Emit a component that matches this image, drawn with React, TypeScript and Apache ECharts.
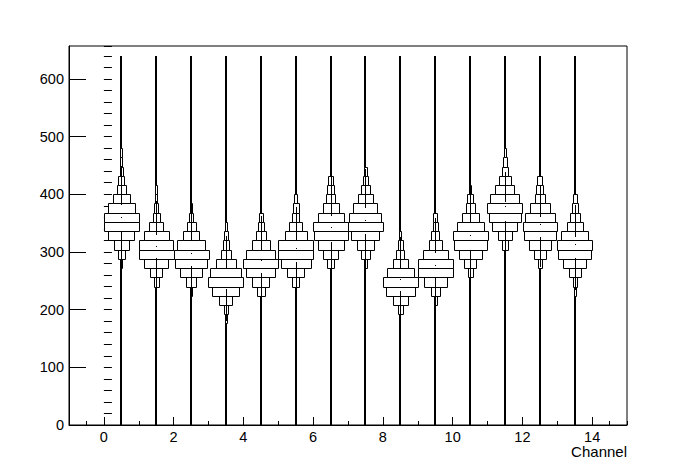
import { useEffect, useRef } from "react";
import * as echarts from "echarts";

// Channel centres on the x axis
const channelCenters = [0.5, 1.5, 2.5, 3.5, 4.5, 5.5, 6.5, 7.5, 8.5, 9.5, 10.5, 11.5, 12.5, 13.5];
// Y binning of the violins
const binSize = 16;
const yLow = 0;
const yHigh = 640;
// index of the lowest drawn (visible) bin of each channel
const firstBin = [17, 15, 14, 11, 14, 15, 17, 17, 12, 13, 16, 19, 17, 14];
// relative bin contents (percent of the widest bin), bottom to top
const counts0 = [2, 20, 43, 74, 100, 100, 77, 49, 26, 17, 8, 7, 4];
const counts1 = [13, 35, 70, 100, 98, 71, 41, 20, 12, 6, 6];
const counts2 = [6, 29, 63, 93, 100, 80, 47, 25, 12, 6];
const counts3 = [5, 11, 38, 78, 100, 90, 56, 29, 16, 11, 6];
const counts4 = [23, 50, 84, 100, 84, 51, 29, 17, 11];
const counts5 = [21, 50, 87, 100, 100, 63, 36, 20, 16, 10];
const counts6 = [21, 43, 75, 98, 100, 75, 47, 27, 19, 13];
const counts7 = [8, 27, 50, 81, 100, 92, 70, 42, 26, 15, 10];
const counts8 = [15, 44, 82, 100, 78, 44, 24, 14, 7];
const counts9 = [10, 27, 67, 100, 100, 71, 38, 24, 13, 11];
const counts10 = [14, 35, 67, 95, 100, 78, 50, 27, 16, 7];
const counts11 = [17, 41, 71, 92, 100, 83, 54, 35, 16, 11, 6];
const counts12 = [12, 35, 64, 92, 98, 87, 57, 30, 19, 13];
const counts13 = [6, 11, 34, 67, 95, 100, 78, 46, 29, 17, 11];
const binCounts = [
  counts0, counts1, counts2, counts3, counts4, counts5, counts6,
  counts7, counts8, counts9, counts10, counts11, counts12, counts13,
];
const means = [360, 311, 298, 256, 286, 306, 344, 355, 253, 278, 330, 379, 348, 313];
const q1 = [336, 289, 275, 235, 263, 283, 317, 331, 233, 257, 304, 353, 326, 289];
const q3 = [381, 329, 321, 272, 303, 321, 362, 376, 270, 298, 350, 387, 361, 326];

const xMin = -1;
const xMax = 15;
const yMin = 0;
const yMax = 657;
const xTickValues = [0, 2, 4, 6, 8, 10, 12, 14];
const yTickValues = [0, 100, 200, 300, 400, 500, 600];
const xTitle = "Channel";

const FONT = "'Liberation Sans', Arial, Helvetica, sans-serif";

export default function App() {
  const ref = useRef<HTMLDivElement>(null);

  useEffect(() => {
    if (!ref.current) return;
    const chart = echarts.init(ref.current, null, { renderer: "svg" });

    const renderItem = (params: any, api: any) => {
      const idx = api.value(2);
      const cx = channelCenters[idx];
      const unitW = api.size([1, 0])[0];
      const children: any[] = [];
      const top = api.coord([cx, yHigh]);
      const bot = api.coord([cx, yLow]);
      const px = Math.round(top[0]);
      // thin tails (tiny bin contents) - appear as a thick line
      children.push({
        type: "rect",
        shape: { x: px - 1, y: Math.round(top[1]), width: 2, height: Math.round(bot[1]) - Math.round(top[1]) },
        style: { fill: "#000" },
      });
      const counts = binCounts[idx];
      counts.forEach((c: number, j: number) => {
        const lo = (firstBin[idx] + j) * binSize;
        const hi = lo + binSize;
        const a = api.coord([cx, hi]);
        const b = api.coord([cx, lo]);
        const w = Math.max(2, Math.round((c / 100) * unitW));
        const x0 = Math.round(a[0] - w / 2);
        const y0 = Math.round(a[1]);
        const y1 = Math.round(b[1]);
        children.push({
          type: "rect",
          shape: { x: x0 + 0.5, y: y0 + 0.5, width: w, height: y1 - y0 },
          style: { fill: "#fff", stroke: "#000", lineWidth: 1 },
        });
      });
      // whiskers
      const iqr = q3[idx] - q1[idx];
      const wHi = q3[idx] + 1.5 * iqr;
      const wLo = q1[idx] - 1.5 * iqr;
      const pQ3 = api.coord([cx, q3[idx]]);
      const pHi = api.coord([cx, wHi]);
      const pQ1 = api.coord([cx, q1[idx]]);
      const pLo = api.coord([cx, wLo]);
      children.push({
        type: "line",
        shape: { x1: px + 0.5, y1: Math.round(pHi[1]), x2: px + 0.5, y2: Math.round(pQ3[1]) },
        style: { stroke: "#000", lineWidth: 1 },
      });
      children.push({
        type: "line",
        shape: { x1: px + 0.5, y1: Math.round(pQ1[1]), x2: px + 0.5, y2: Math.round(pLo[1]) },
        style: { stroke: "#000", lineWidth: 1 },
      });
      // mean marker
      const pm = api.coord([cx, means[idx]]);
      children.push({
        type: "rect",
        shape: { x: px, y: Math.round(pm[1]), width: 1, height: 1 },
        style: { fill: "#000" },
      });
      return { type: "group", children };
    };

    const labelStyle = { color: "#000", fontSize: 14.5, fontFamily: FONT };

    chart.setOption({
      animation: false,
      backgroundColor: "#fff",
      grid: {
        left: 69,
        right: 69,
        top: 46,
        bottom: 47,
        show: true,
        borderColor: "#000",
        borderWidth: 1,
        backgroundColor: "transparent",
      },
      xAxis: [
        {
          type: "value",
          min: xMin,
          max: xMax,
          axisLine: { show: true, onZero: false, lineStyle: { color: "#000", width: 1 } },
          axisTick: { show: true, inside: true, length: 8, customValues: xTickValues, lineStyle: { color: "#000" } },
          axisLabel: { show: true, margin: 4, customValues: xTickValues, ...labelStyle },
          splitLine: { show: false },
        },
        {
          type: "value",
          min: xMin,
          max: xMax,
          interval: 0.5,
          position: "bottom",
          axisLine: { show: false },
          axisTick: { show: true, inside: true, length: 4, lineStyle: { color: "#000" } },
          axisLabel: { show: false },
          splitLine: { show: false },
        },
      ],
      yAxis: [
        {
          type: "value",
          min: yMin,
          max: yMax,
          axisLine: { show: true, onZero: false, lineStyle: { color: "#000", width: 1 } },
          axisTick: { show: true, inside: true, length: 17, customValues: yTickValues, lineStyle: { color: "#000" } },
          axisLabel: { show: true, margin: 5, customValues: yTickValues, ...labelStyle },
          splitLine: { show: false },
        },
        {
          type: "value",
          min: yMin,
          max: yMax,
          interval: 20,
          position: "left",
          axisLine: { show: false },
          axisTick: { show: true, inside: true, length: 8, lineStyle: { color: "#000" } },
          axisLabel: { show: false },
          splitLine: { show: false },
        },
      ],
      graphic: [
        {
          type: "text",
          right: 69,
          top: 444,
          style: { text: xTitle, fill: "#000", fontSize: 15, fontFamily: FONT },
        },
      ],
      series: [
        {
          type: "custom",
          xAxisIndex: 0,
          yAxisIndex: 0,
          renderItem,
          encode: { x: 0, y: 1 },
          data: channelCenters.map((c, i) => [c, means[i], i]),
          silent: true,
        },
      ],
    });

    return () => chart.dispose();
  }, []);

  return (
    <div
      ref={ref}
      style={{ position: "fixed", left: 0, top: 0, width: 696, height: 472, background: "#fff" }}
    />
  );
}
